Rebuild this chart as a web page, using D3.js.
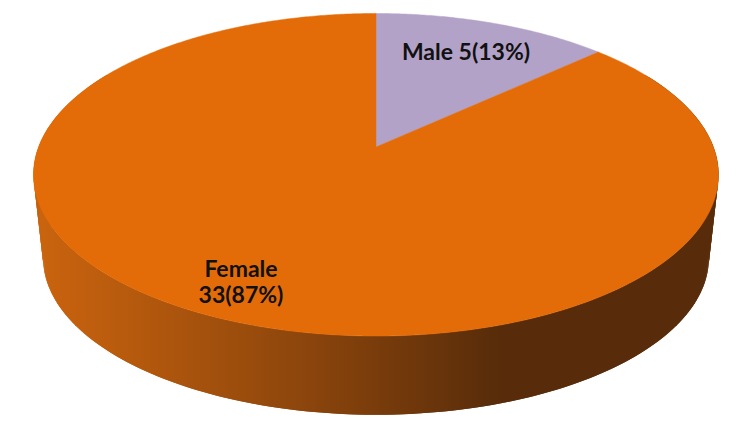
<!DOCTYPE html>
<html>
<head>
<meta charset="utf-8">
<script src="https://cdn.jsdelivr.net/npm/d3@7"></script>
<style>
  body { margin: 0; background: #fff; }
</style>
</head>
<body>
<div id="pie3d"></div>
<script>
// data
var categories = ["Male", "Female"];
var counts = [5, 33];
var percents = [13, 87];

var topColors = ["#b3a2c7", "#e36c09"];
var wallLight = ["#9a8cad", "#c9630e"];
var wallDark = ["#4a4352", "#582c0a"];

var width = 750, height = 446;

// projection of the tilted disc (fitted to the picture)
var cx = 376, apexY = 147;     // projected pie centre
var sx = 337.4, sy = 156.5;    // horizontal / vertical scale
var persp = 0.1721;            // perspective strength
var topC = [376, 174.75], botC = [376, 258], shrink = 0.972;

function topPt(a) {
  var X = Math.sin(a), Z = -Math.cos(a);
  var d = 1 - persp * Z;
  return [cx + sx * X / d, apexY + sy * Z / d];
}
function botPt(a) {
  var p = topPt(a);
  return [botC[0] + shrink * (p[0] - topC[0]), botC[1] + shrink * (p[1] - topC[1])];
}

var svg = d3.select("#pie3d")
  .append("svg")
    .attr("width", width)
    .attr("height", height);

var defs = svg.append("defs");

var arcs = d3.pie().sort(null).value(function(d) { return d; })(counts);

// light comes from the left, a little from the front
var beta = 17 * Math.PI / 180;
function brightness(a) {
  var nx = Math.sin(a), nz = -Math.cos(a);
  return Math.max(0, -nx * Math.cos(beta) + nz * Math.sin(beta));
}

var line = d3.line();
var lo = Math.PI / 3, hi = 5 * Math.PI / 3;   // only the front part of the wall shows
var xL = topPt(3 * Math.PI / 2)[0], xR = topPt(Math.PI / 2)[0];
var step = Math.PI / 180;

// side walls: shading gradient across x, swept quads so the silhouette is filled
arcs.forEach(function(arc, i) {
  var a0 = Math.max(arc.startAngle, lo), a1 = Math.min(arc.endAngle, hi);
  if (a1 <= a0) return;

  var shade = d3.scaleLinear().domain([0, 1]).range([wallDark[i], wallLight[i]]);
  var grad = defs.append("linearGradient")
    .attr("id", "wall" + i)
    .attr("gradientUnits", "userSpaceOnUse")
    .attr("x1", xL).attr("x2", xR)
    .attr("y1", 0).attr("y2", 0);
  for (var j = 0; j <= 60; j++) {
    var a = 3 * Math.PI / 2 - Math.PI * j / 60;
    grad.append("stop")
      .attr("offset", (topPt(a)[0] - xL) / (xR - xL))
      .attr("stop-color", shade(brightness(a)));
  }

  var quads = [];
  for (var t = a0; t < a1 - 1e-9; t += step) {
    quads.push([t, Math.min(t + 2 * step, a1)]);
  }
  svg.append("g").selectAll("path")
    .data(quads)
    .enter()
    .append("path")
      .attr("d", function(q) {
        return line([topPt(q[0]), topPt(q[1]), botPt(q[1]), botPt(q[0])]) + "Z";
      })
      .style("fill", "url(#wall" + i + ")");
});

// top faces
svg.append("g").selectAll("path")
  .data(arcs)
  .enter()
  .append("path")
    .attr("d", function(d) {
      var pts = [[cx, apexY]];
      var n = Math.max(2, Math.ceil((d.endAngle - d.startAngle) / (Math.PI / 360)));
      for (var j = 0; j <= n; j++) {
        pts.push(topPt(d.startAngle + (d.endAngle - d.startAngle) * j / n));
      }
      return line(pts) + "Z";
    })
    .style("fill", function(d, i) { return topColors[i]; })
    .style("stroke", function(d, i) { return topColors[i]; })
    .style("stroke-width", 0.5);

// data labels
var labelLines = [
  [categories[0] + " " + counts[0] + "(" + percents[0] + "%)"],
  [categories[1], counts[1] + "(" + percents[1] + "%)"]
];
var labelPos = [[466, 60], [241, 277]];

labelLines.forEach(function(lines, i) {
  var t = svg.append("text")
    .attr("x", labelPos[i][0])
    .attr("y", labelPos[i][1])
    .attr("text-anchor", "middle")
    .style("font-family", "Lato, 'Open Sans', sans-serif")
    .style("font-weight", "bold")
    .style("font-size", "23px")
    .style("fill", "#111");
  lines.forEach(function(s, j) {
    t.append("tspan")
      .attr("x", labelPos[i][0])
      .attr("dy", j === 0 ? 0 : 26)
      .text(s);
  });
});
</script>
</body>
</html>
